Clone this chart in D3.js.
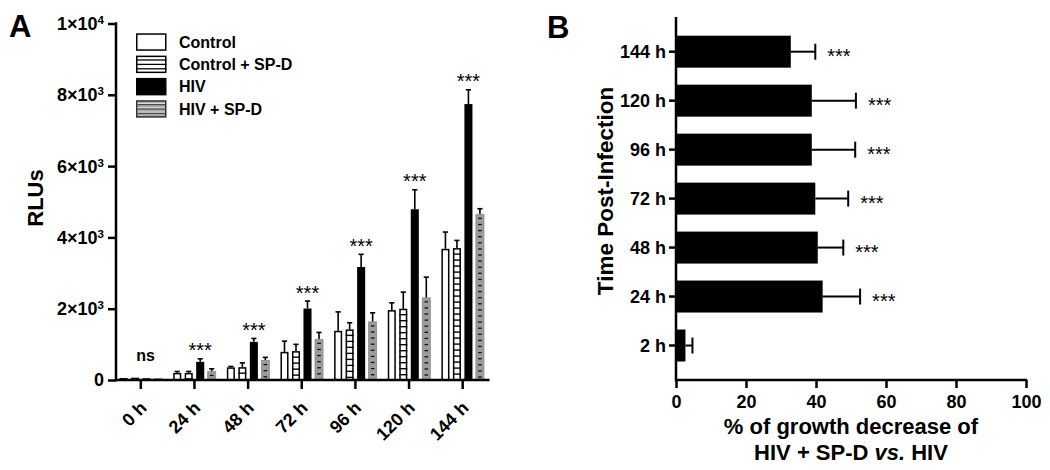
<!DOCTYPE html>
<html><head><meta charset="utf-8">
<script src="https://cdn.jsdelivr.net/npm/d3@7"></script>
<style>
html,body{margin:0;padding:0;background:#fff;}
text{font-family:"Liberation Sans",Arial,Helvetica,sans-serif;fill:#000;}
</style></head>
<body><svg id="c" width="1050" height="470"></svg>
<script>
// ---------- DATA ----------
const timesA = ["0 h","24 h","48 h","72 h","96 h","120 h","144 h"];
const seriesNames = ["Control","Control + SP-D","HIV","HIV + SP-D"];
const controlVals  = [55, 200, 355, 790, 1380, 1960, 3680];
const controlErr   = [0, 40, 25, 300, 530, 205, 470];
const ctrlSpdVals  = [65, 200, 360, 810, 1420, 2000, 3700];
const ctrlSpdErr   = [0, 40, 120, 190, 185, 465, 215];
const hivVals      = [50, 510, 1070, 2005, 3170, 4790, 7740];
const hivErr       = [0, 85, 95, 210, 355, 545, 400];
const hivSpdVals   = [40, 240, 545, 1140, 1630, 2305, 4645];
const hivSpdErr    = [0, 75, 90, 195, 255, 580, 160];
const sigA         = ["ns","***","***","***","***","***","***"];
const yTicksA      = [0, 2000, 4000, 6000, 8000, 10000];

const timesB   = ["144 h","120 h","96 h","72 h","48 h","24 h","2 h"];
const pctVals  = [32.8, 38.8, 38.8, 39.8, 40.5, 41.9, 2.7];
const pctErr   = [7.0, 12.6, 12.4, 9.4, 7.3, 10.7, 2.0];
const sigB     = ["***","***","***","***","***","***",""];
const xTicksB  = [0, 20, 40, 60, 80, 100];

// ---------- SETUP ----------
const svg = d3.select("#c");
const FONT = '"Liberation Sans",Arial,Helvetica,sans-serif';

// ===== PANEL A =====
const gA = svg.append("g");
const yA = d3.scaleLinear().domain([0, 10000]).range([380, 23.5]);
const xA = d3.scaleBand().domain(timesA).range([114, 489.5]);
const x1 = d3.scaleBand().domain(seriesNames).range([-23, 23]).paddingInner(0.3).paddingOuter(0.15);

const series = [
  {name: seriesNames[0], v: controlVals, e: controlErr, kind: "open"},
  {name: seriesNames[1], v: ctrlSpdVals, e: ctrlSpdErr, kind: "striped"},
  {name: seriesNames[2], v: hivVals, e: hivErr, kind: "solid"},
  {name: seriesNames[3], v: hivSpdVals, e: hivSpdErr, kind: "gray"}
];

const bw = x1.bandwidth();
series.forEach(s => {
  s.v.forEach((val, i) => {
    const x0 = xA(timesA[i]) + xA.bandwidth() / 2 + x1(s.name);
    const cx = x0 + bw / 2;
    const yTop = yA(val), y0 = yA(0);
    if (s.e[i] > 0) {
      const ye = yA(val + s.e[i]);
      gA.append("line").attr("x1", cx).attr("x2", cx).attr("y1", yTop).attr("y2", ye)
        .attr("stroke", "#000").attr("stroke-width", 1.6);
      gA.append("line").attr("x1", cx - 2.6).attr("x2", cx + 2.6).attr("y1", ye).attr("y2", ye)
        .attr("stroke", "#000").attr("stroke-width", 1.6);
    }
    if (s.kind === "solid") {
      gA.append("rect").attr("x", x0).attr("y", yTop).attr("width", bw).attr("height", y0 - yTop).attr("fill", "#000");
    } else if (s.kind === "gray") {
      gA.append("rect").attr("x", x0).attr("y", yTop).attr("width", bw).attr("height", y0 - yTop)
        .attr("fill", "#9c9c9c").attr("stroke", "#8a8a8a").attr("stroke-width", 0.8);
      d3.range(yTop + 4, y0 - 1, 6.1).forEach(yy => {
        gA.append("line").attr("x1", cx - 1.8).attr("x2", cx + 1.8).attr("y1", yy).attr("y2", yy)
          .attr("stroke", "#111").attr("stroke-width", 1.3);
      });
    } else {
      gA.append("rect").attr("x", x0 + 0.75).attr("y", yTop + 0.75).attr("width", bw - 1.5)
        .attr("height", Math.max(0, y0 - yTop - 0.75)).attr("fill", "#fff").attr("stroke", "#000").attr("stroke-width", 1.5);
      if (s.kind === "striped") {
        d3.range(yTop + 6, y0 - 1, 6).forEach(yy => {
          gA.append("line").attr("x1", x0).attr("x2", x0 + bw).attr("y1", yy).attr("y2", yy)
            .attr("stroke", "#000").attr("stroke-width", 1.4);
        });
      }
    }
  });
});

// significance labels A
sigA.forEach((lab, i) => {
  const s = series[2];
  const cx = xA(timesA[i]) + xA.bandwidth() / 2 + x1(s.name) + bw / 2;
  const cap = yA(s.v[i] + s.e[i]);
  if (lab === "ns") {
    gA.append("text").attr("x", cx - 1).attr("y", cap - 17).attr("text-anchor", "middle")
      .attr("font-size", 16).attr("font-weight", "bold").text(lab);
  } else {
    gA.append("text").attr("x", cx).attr("y", cap - 1.5).attr("text-anchor", "middle")
      .attr("font-size", 20).text(lab);
  }
});

// axes A
const axYA = gA.append("g").attr("transform", "translate(116,0)")
  .call(d3.axisLeft(yA).tickValues(yTicksA).tickSize(8).tickSizeOuter(0).tickFormat(""));
axYA.selectAll("path,line").attr("stroke", "#000").attr("stroke-width", 2.5);
axYA.select(".domain").attr("d", `M0,${yA(10000) - 1.2}V${yA(0) + 1.2}`);
yTicksA.forEach(v => {
  const t = gA.append("text").attr("x", 104).attr("y", yA(v)).attr("dy", "0.36em")
    .attr("text-anchor", "end").attr("font-size", 18).attr("font-weight", "bold");
  if (v === 0) { t.text("0"); return; }
  const ex = Math.floor(Math.log10(v) + 1e-9);
  const m = Math.round(v / Math.pow(10, ex));
  t.append("tspan").text(m + "×10");
  t.append("tspan").attr("font-size", 11.5).attr("dy", -6).text(ex);
});

const axXA = gA.append("g").attr("transform", "translate(0,380)")
  .call(d3.axisBottom(xA).tickSize(9).tickSizeOuter(0).tickFormat(""));
axXA.selectAll("line").attr("stroke", "#000").attr("stroke-width", 2.5);
axXA.select(".domain").attr("stroke", "#000").attr("stroke-width", 2.5).attr("d", "M116,0H489.5");
timesA.forEach(t => {
  const cx = xA(t) + xA.bandwidth() / 2;
  gA.append("text").attr("transform", `translate(${cx + 7},409) rotate(-45)`)
    .attr("text-anchor", "end").attr("font-size", 18).attr("font-weight", "bold").text(t);
});

gA.append("text").attr("transform", "translate(43,198) rotate(-90)").attr("text-anchor", "middle")
  .attr("font-size", 22).attr("font-weight", "bold").text("RLUs");
gA.append("text").attr("x", 9).attr("y", 37).attr("font-size", 31).attr("font-weight", "bold").text("A");

// legend A
const leg = gA.append("g");
series.forEach((s, i) => {
  const y = 33.3 + i * 22.3, x = 136, w = 30.5, h = 17.5;
  if (s.kind === "solid") {
    leg.append("rect").attr("x", x).attr("y", y).attr("width", w).attr("height", h).attr("fill", "#000");
  } else if (s.kind === "gray") {
    leg.append("rect").attr("x", x + 0.75).attr("y", y + 0.75).attr("width", w - 1.5).attr("height", h - 1.5)
      .attr("fill", "#a8a8a8").attr("stroke", "#333").attr("stroke-width", 1.5);
    d3.range(y + 4.4, y + h - 1, 4.4).forEach(yy => {
      leg.append("line").attr("x1", x + 1.5).attr("x2", x + w - 1.5).attr("y1", yy - 1.2).attr("y2", yy - 1.2)
        .attr("stroke", "#d8d8d8").attr("stroke-width", 1.3);
      leg.append("line").attr("x1", x + 1.5).attr("x2", x + w - 1.5).attr("y1", yy).attr("y2", yy)
        .attr("stroke", "#444").attr("stroke-width", 1.1);
    });
  } else {
    leg.append("rect").attr("x", x + 0.75).attr("y", y + 0.75).attr("width", w - 1.5).attr("height", h - 1.5)
      .attr("fill", "#fff").attr("stroke", "#000").attr("stroke-width", 1.5);
    if (s.kind === "striped") {
      d3.range(y + 4.4, y + h - 1, 4.4).forEach(yy => {
        leg.append("line").attr("x1", x).attr("x2", x + w).attr("y1", yy).attr("y2", yy)
          .attr("stroke", "#000").attr("stroke-width", 1.3);
      });
    }
  }
  leg.append("text").attr("x", 179).attr("y", y + h / 2).attr("dy", "0.36em")
    .attr("font-size", 16).attr("font-weight", "bold").text(s.name);
});

// ===== PANEL B =====
const gB = svg.append("g");
const xB = d3.scaleLinear().domain([0, 100]).range([676, 1026]);
const yB = d3.scaleBand().domain(timesB).range([27.2, 370]).paddingInner(0.347).paddingOuter(0.1735);

timesB.forEach((t, i) => {
  const y = yB(t), h = yB.bandwidth(), cy = y + h / 2;
  const xe = xB(pctVals[i] + pctErr[i]);
  gB.append("line").attr("x1", xB(pctVals[i])).attr("x2", xe).attr("y1", cy).attr("y2", cy)
    .attr("stroke", "#000").attr("stroke-width", 2);
  gB.append("line").attr("x1", xe).attr("x2", xe).attr("y1", cy - 8).attr("y2", cy + 8)
    .attr("stroke", "#000").attr("stroke-width", 2);
  gB.append("rect").attr("x", xB(0)).attr("y", y).attr("width", xB(pctVals[i]) - xB(0)).attr("height", h).attr("fill", "#000");
  if (sigB[i]) {
    gB.append("text").attr("x", xe + 12).attr("y", cy + 11.5).attr("font-size", 20).text(sigB[i]);
  }
});

const axXB = gB.append("g").attr("transform", "translate(0,380)")
  .call(d3.axisBottom(xB).tickValues(xTicksB).tickSize(8).tickSizeOuter(0).tickFormat(d3.format("d")));
axXB.selectAll("line").attr("stroke", "#000").attr("stroke-width", 2.5);
axXB.select(".domain").attr("stroke", "#000").attr("stroke-width", 2.5).attr("d", "M676,0H1027.2");
axXB.selectAll("text").attr("font-size", 18).attr("font-weight", "bold").attr("font-family", FONT)
  .attr("fill", "#000").attr("y", 15).attr("dy", "0.71em");

const axYB = gB.append("g").attr("transform", "translate(676,0)")
  .call(d3.axisLeft(yB).tickSize(7).tickSizeOuter(0));
axYB.selectAll("line").attr("stroke", "#000").attr("stroke-width", 2.5);
axYB.select(".domain").attr("stroke", "#000").attr("stroke-width", 2.5).attr("d", "M0,17V381.2");
axYB.selectAll("text").attr("font-size", 18).attr("font-weight", "bold").attr("font-family", FONT)
  .attr("fill", "#000").attr("x", -10).attr("dy", "0.36em");

gB.append("text").attr("transform", "translate(613,191) rotate(-90)").attr("text-anchor", "middle")
  .attr("font-size", 22.5).attr("font-weight", "bold").text("Time Post-Infection");
gB.append("text").attr("x", 851).attr("y", 434).attr("text-anchor", "middle")
  .attr("font-size", 22).attr("font-weight", "bold").text("% of growth decrease of");
const t2 = gB.append("text").attr("x", 851).attr("y", 460).attr("text-anchor", "middle")
  .attr("font-size", 22).attr("font-weight", "bold");
t2.append("tspan").text("HIV + SP-D ");
t2.append("tspan").attr("font-style", "italic").text("vs.");
t2.append("tspan").text(" HIV");
gB.append("text").attr("x", 547).attr("y", 38).attr("font-size", 31).attr("font-weight", "bold").text("B");
</script></body></html>
